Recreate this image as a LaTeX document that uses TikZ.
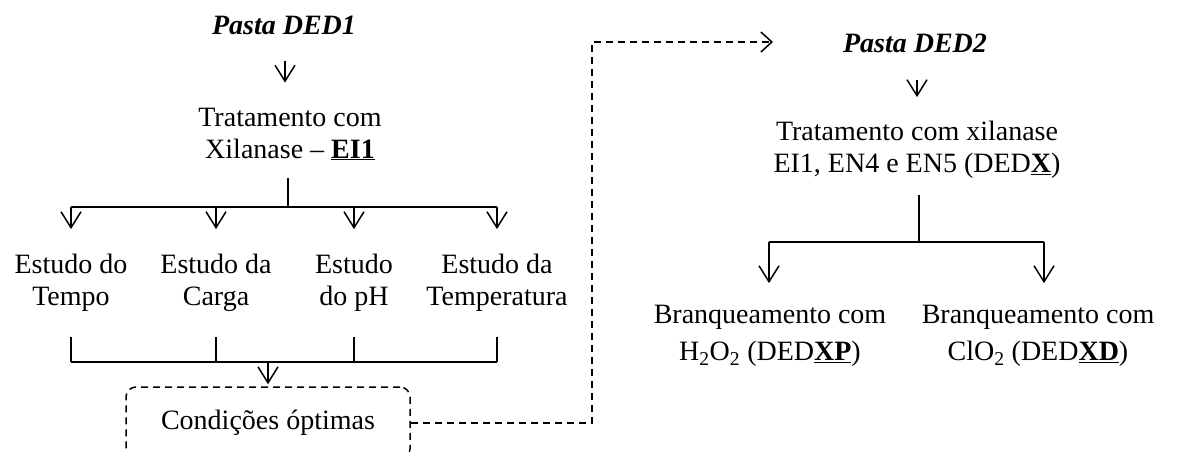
\documentclass[tikz,border=0pt]{standalone}
\usepackage{fontspec}
\setmainfont{Liberation Serif}
\usetikzlibrary{arrows.meta}
\tikzset{
  txt/.style={inner sep=0pt, align=center, font=\fontsize{28}{32}\selectfont},
  ln/.style={line width=1.6pt},
  arr/.style={line width=1.5pt, -{Straight Barb[length=16pt,width=20pt,line width=1.5pt]}},
  dsh/.style={line width=1.5pt, dash pattern=on 7pt off 5pt},
  dasharr/.style={dsh, -{Straight Barb[length=11pt,width=20pt,line width=1.5pt]}},
  boxc/.style={txt, draw, dsh, rounded corners=10pt, minimum width=284pt, minimum height=72pt}
}
\begin{document}
\begin{tikzpicture}[x=1pt,y=-1pt]
\useasboundingbox (0,0) rectangle (1178,451);
\clip (0,0) rectangle (1178,451);
% left column
\node[txt] (p1) at (284,25) {\textbf{\textit{Pasta DED1}}};
\node[txt] (t1) at (290,134) {Tratamento com\\Xilanase – \underline{\textbf{EI1}}};
\node[txt] (s1) at (71,283) {Estudo do\\Tempo};
\node[txt] (s2) at (216,283) {Estudo da\\Carga};
\node[txt] (s3) at (354,283) {Estudo\\do pH};
\node[txt] (s4) at (497,283) {Estudo da\\Temperatura};
\node[boxc] (c) at (268,423) {Condições óptimas};
\coordinate (a1) at (285,61);
\coordinate (j1) at (288,207);
\coordinate (j2) at (268,362);
\coordinate (d1) at (592,420);

\draw[arr] (a1) -- (a1 |- t1.north) [shorten >=25pt];
\draw[ln] ([yshift=-18pt]t1.south -| j1) -- (j1);
\draw[ln] (s1.north |- j1) -- (s4.north |- j1);
\foreach \s in {s1,s2,s3,s4}{
  \draw[arr] (\s.north |- j1) -- ([yshift=25pt]\s.north);
}
\foreach \s in {s1,s2,s3,s4}{
  \draw[ln] ([yshift=-25pt]\s.south) -- (\s.south |- j2);
}
\draw[ln] (s1.south |- j2) -- (s4.south |- j2);
\draw[arr] (j2) -- ([yshift=2pt]c.north -| j2);

% dashed link
\draw[dasharr] (c.east) -- (c.east -| d1) -- (d1 |- 0,42) -- (773,42) coordinate (d2);

% right column
\node[txt] (p2) at (915,43) {\textbf{\textit{Pasta DED2}}};
\node[txt] (t2) at (917,150) {Tratamento com xilanase\\EI1, EN4 e EN5 (DED\underline{\textbf{X}})};
\node[txt] (b1) at (770,336) {Branqueamento com\\[5pt]H\textsubscript{2}O\textsubscript{2} (DED\underline{\textbf{XP}})};
\node[txt] (b2) at (1038,336) {Branqueamento com\\[5pt]ClO\textsubscript{2} (DED\underline{\textbf{XD}})};
\coordinate (a2) at (917,80);
\coordinate (j3) at (919,242);
\coordinate (j3l) at (769,242);
\coordinate (j3r) at (1044,242);

\draw[arr] (a2) -- (a2 |- t2.north) [shorten >=24pt];
\draw[ln] ([yshift=-16pt]t2.south -| j3) -- (j3);
\draw[ln] (j3l) -- (j3r);
\draw[arr] (j3l) -- ([yshift=22pt]j3l |- b1.north);
\draw[arr] (j3r) -- ([yshift=22pt]j3r |- b2.north);
\end{tikzpicture}
\end{document}
